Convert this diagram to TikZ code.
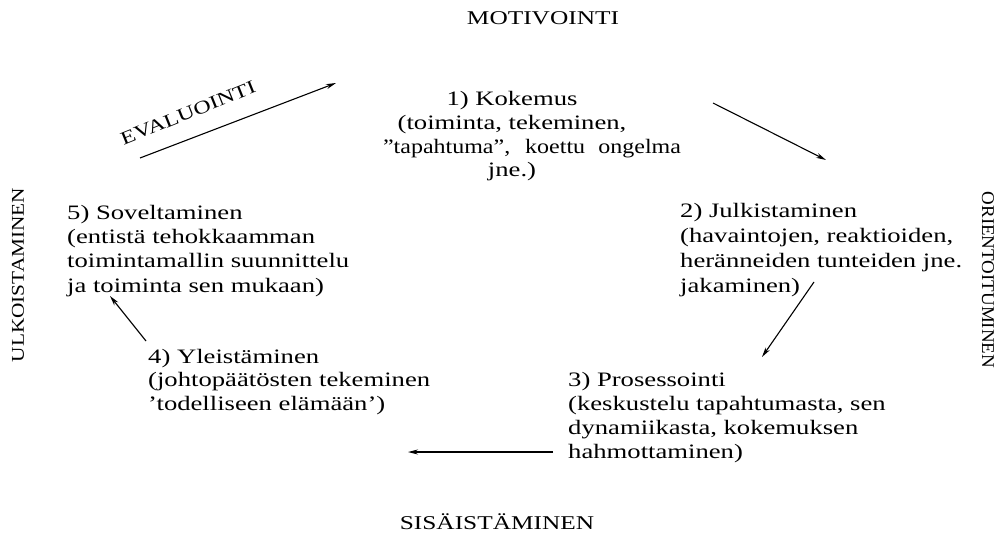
\documentclass[tikz,border=0pt]{standalone}
\usepackage{fontspec}
\usepackage{graphicx}
\setmainfont{Liberation Serif}[FakeStretch=1.3]
\usetikzlibrary{arrows.meta}
\begin{document}
\begin{tikzpicture}[x=1pt,y=-1pt,
  body/.style={inner sep=0pt, font=\fontsize{20.5}{#1}\selectfont},
  body/.default=24.3,
  lbl/.style={inner sep=0pt, font=\fontsize{19.5}{24}\selectfont},
  side/.style={inner sep=0pt, font=\fontsize{18}{22}\selectfont},
  arr/.style={line width=1.1pt, -{Stealth[length=10pt,width=5pt]}}]
\useasboundingbox (0,0) rectangle (1008,540);
% axis labels
\node[lbl, anchor=base] (mot) at (543,25) {MOTIVOINTI};
\node[lbl, anchor=base] (sis) at (497,529) {SISÄISTÄMINEN};
\node[side, rotate=-90, anchor=center] (ori) at (988,280) {\scalebox{0.81}[1]{ORIENTOITUMINEN}};
\node[side, rotate=90, anchor=center] (ulk) at (18,275) {\scalebox{0.91}[1]{ULKOISTAMINEN}};
\node[lbl, rotate=22, anchor=center, font=\fontsize{18.5}{22}\selectfont] (eva) at (188,113) {EVALUOINTI};
% stages (anchor base = baseline of the last line)
\node[body=23.7, anchor=base, align=center] (n1) at (512,177)
  {1) Kokemus\\(toiminta, tekeminen,\\\hspace*{40pt}\scalebox{0.9}[1]{\makebox[331pt][s]{''tapahtuma'', koettu ongelma}}\\jne.)};
\node[body=25, anchor=base west, align=left] (n2) at (680,292)
  {2) Julkistaminen\\(havaintojen, reaktioiden,\\heränneiden tunteiden jne.\\jakaminen)};
\node[body=24, anchor=base west, align=left] (n3) at (568,458)
  {3) Prosessointi\\(keskustelu tapahtumasta, sen\\dynamiikasta, kokemuksen\\hahmottaminen)};
\node[body=23.5, anchor=base west, align=left] (n4) at (148,410)
  {4) Yleistäminen\\(johtopäätösten tekeminen\\'todelliseen elämään')};
\node[body=24.3, anchor=base west, align=left] (n5) at (67,292)
  {5) Soveltaminen\\(entistä tehokkaamman\\toimintamallin suunnittelu\\ja toiminta sen mukaan)};
% arrow end points
\coordinate (a12s) at (713,103);
\coordinate (a12e) at (826,160);
\coordinate (a23s) at (814,282);
\coordinate (a23e) at (762,357);
\coordinate (a34s) at (553,452);
\coordinate (a34e) at (408,452);
\coordinate (a45s) at (146,341);
\coordinate (a45e) at (110,296);
\coordinate (a51s) at (140,158);
\coordinate (a51e) at (336,83);
\draw[arr] (a12s) -- (a12e);
\draw[arr] (a23s) -- (a23e);
\draw[arr] (a34s) -- (a34e);
\draw[arr] (a45s) -- (a45e);
\draw[arr] (a51s) -- (a51e);
\end{tikzpicture}
\end{document}
